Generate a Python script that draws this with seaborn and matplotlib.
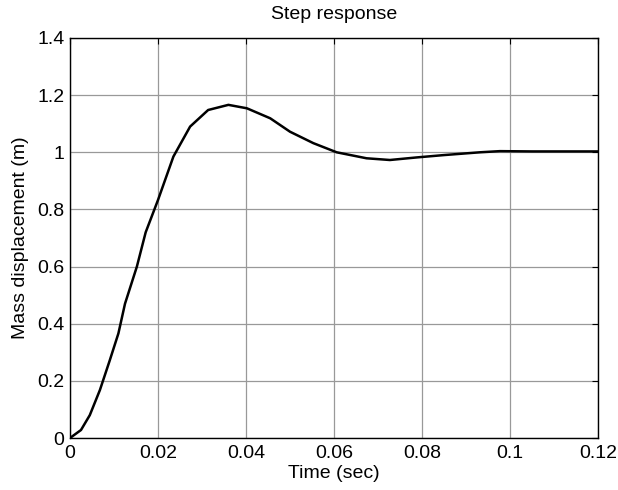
import matplotlib
matplotlib.use("Agg")
import matplotlib.pyplot as plt
import seaborn as sns
import pandas as pd

time_s = [0.0, 0.0025, 0.0045, 0.0068, 0.009, 0.011, 0.0125, 0.0152, 0.0172,
          0.02, 0.0235, 0.0273, 0.0314, 0.036, 0.0402, 0.0455, 0.05, 0.0553, 0.0606,
          0.0674, 0.0727, 0.0788, 0.0848, 0.0932, 0.0977, 0.105, 0.12]
displacement = [0.0, 0.028, 0.08, 0.168, 0.27, 0.366, 0.47, 0.6, 0.72,
                0.833, 0.985, 1.09, 1.148, 1.166, 1.154, 1.119, 1.072, 1.032, 1.0,
                0.979, 0.973, 0.982, 0.99, 1.0, 1.004, 1.003, 1.003]
x_ticks = [0, 0.02, 0.04, 0.06, 0.08, 0.1, 0.12]
x_tick_labels = ["0", "0.02", "0.04", "0.06", "0.08", "0.1", "0.12"]
y_ticks = [0, 0.2, 0.4, 0.6, 0.8, 1.0, 1.2, 1.4]
y_tick_labels = ["0", "0.2", "0.4", "0.6", "0.8", "1", "1.2", "1.4"]

sns.set_style("white")
plt.rcParams['font.family'] = ['Liberation Sans', 'DejaVu Sans']
plt.rcParams['text.color'] = 'black'
plt.rcParams['axes.labelcolor'] = 'black'

df = pd.DataFrame({"t": time_s, "y": displacement})

fig = plt.figure(figsize=(6.18, 4.9), dpi=100)
ax = fig.add_axes([70/618, 52/490, 528/618, 400/490])
sns.lineplot(data=df, x="t", y="y", ax=ax, color="black", linewidth=1.8)

ax.set_xlim(0, 0.12)
ax.set_ylim(0, 1.4)
ax.set_xticks(x_ticks)
ax.set_xticklabels(x_tick_labels)
ax.set_yticks(y_ticks)
ax.set_yticklabels(y_tick_labels)
ax.grid(True, color="#999999", linewidth=0.9)
for s in ax.spines.values():
    s.set_color("black")
    s.set_linewidth(1.0)
    s.set_visible(True)
ax.tick_params(direction="in", length=4, width=0.8, top=True, right=True,
               labelsize=14, colors="black")
ax.tick_params(axis="x", pad=5)
ax.tick_params(axis="y", pad=4)
ax.set_xlabel("Time (sec)", fontsize=14, labelpad=2, color="black")
ax.set_ylabel("Mass displacement (m)", fontsize=14, labelpad=6, color="black")
ax.set_title("Step response", fontsize=14, pad=14, color="black")

fig.savefig("out.png", dpi=100, facecolor="white")
